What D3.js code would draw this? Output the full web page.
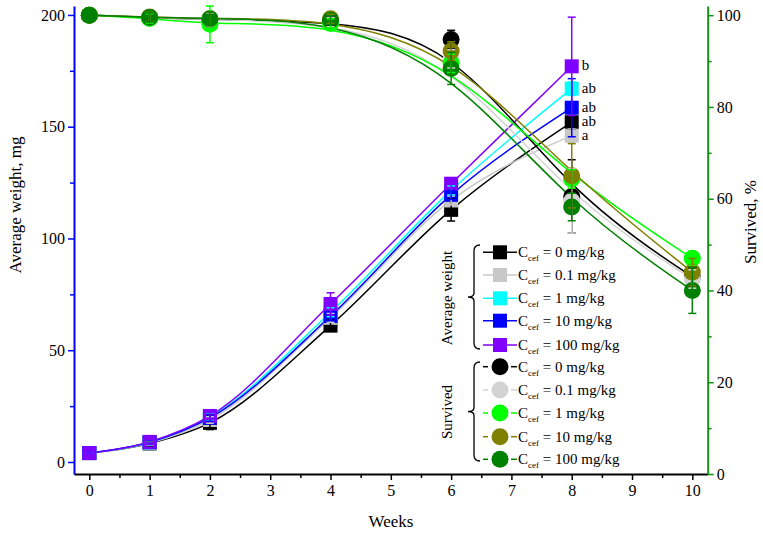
<!DOCTYPE html>
<html>
<head>
<meta charset="utf-8">
<script src="https://cdn.jsdelivr.net/npm/d3@7"></script>
<style>
  body { margin: 0; background: #fff; font-family: 'Liberation Serif', 'DejaVu Serif', serif; }
  svg text { font-family: 'Liberation Serif', 'DejaVu Serif', serif; }
</style>
</head>
<body>
<script>
// Donnees
var weeks = [0, 1, 2, 4, 6, 8]
var weeksSurv = [0, 1, 2, 4, 6, 8, 10]
var doses = ['0', '0.1', '1', '10', '100']

// Poids moyen, mg
var weight0 = [4, 8.3, 17.5, 61, 112.8, 152]
var weight01 = [4, 8.5, 18.8, 64.5, 117, 146]
var weight1 = [4, 8.8, 20.1, 67, 121.5, 167]
var weight10 = [4, 8.8, 19.7, 65.3, 119.5, 158.5]
var weight100 = [4, 9, 20.6, 70.7, 124.5, 177]
var weightErr0 = [0.5, 1, 3, 2.5, 5, 3]
var weightErr01 = [0.5, 1, 1.5, 2, 2, 3]
var weightErr1 = [0.5, 1, 1.5, 2, 2, 3]
var weightErr10 = [0.5, 1, 1.5, 2, 2, 13]
var weightErr100 = [0.5, 1, 1.5, 5, 2, 22]
var letters = ['ab', 'a', 'ab', 'ab', 'b']

// Survie, %
var surv0 = [100, 99.5, 99, 98.8, 94.7, 60.5, 43]
var surv01 = [100, 99.5, 99, 98.5, 90.5, 59.5, 42.5]
var surv1 = [100, 99.3, 98, 98.2, 89.5, 64.3, 47]
var surv10 = [100, 99.6, 99.2, 99.2, 92.2, 65, 44]
var surv100 = [100, 99.5, 99.2, 98.9, 88.4, 58.2, 40]
var survErr0 = [0, 1, 1.5, 1, 2, 8, 2]
var survErr01 = [0, 1, 1.5, 1, 2, 7, 2]
var survErr1 = [0, 1, 4, 1, 2, 2, 1.5]
var survErr10 = [0, 1, 1.5, 1, 2, 7, 3]
var survErr100 = [0, 1, 1.5, 1, 3.5, 3, 5]

var weightColours = ['#000000', '#c8c8c8', '#00ffff', '#0000ff', '#8000ff']
var survColours = ['#000000', '#d3d3d3', '#00ff00', '#808000', '#008000']

var weightSeries = [weight0, weight01, weight1, weight10, weight100]
var weightErrors = [weightErr0, weightErr01, weightErr1, weightErr10, weightErr100]
var survSeries = [surv0, surv01, surv1, surv10, surv100]
var survErrors = [survErr0, survErr01, survErr1, survErr10, survErr100]

var width = 763
var height = 535
var serif = 'Liberation Serif, DejaVu Serif, serif'

var x = d3.scaleLinear().domain([-0.254, 10.255]).range([74, 707.7])
var yW = d3.scaleLinear().domain([-5.37, 204]).range([474, 6])
var yS = d3.scaleLinear().domain([0, 102]).range([474, 6])

var svg = d3.select('body').append('svg')
    .attr('width', width)
    .attr('height', height)
    .attr('font-family', serif)

// Axes
function styleAxis(sel, colour) {
    sel.attr('font-family', serif).attr('font-size', 16)
    sel.selectAll('path').attr('stroke', colour).attr('stroke-width', 2)
    sel.selectAll('line').attr('stroke', colour).attr('stroke-width', 1.5)
    sel.selectAll('text').attr('fill', '#000')
}

var xAxis = svg.append('g').attr('transform', 'translate(0,474)')
    .call(d3.axisBottom(x).tickValues(d3.range(0, 11)).tickSize(6).tickSizeOuter(0).tickPadding(5))
svg.append('g').attr('transform', 'translate(0,474)')
    .call(d3.axisBottom(x).tickValues(d3.range(0.5, 10, 1)).tickSize(4).tickSizeOuter(0).tickFormat(''))
    .call(g => g.select('path').remove())
    .call(g => styleAxis(g, '#000'))
styleAxis(xAxis, '#000')

var leftAxis = svg.append('g').attr('transform', 'translate(74,0)')
    .call(d3.axisLeft(yW).tickValues([0, 50, 100, 150, 200]).tickSize(6).tickSizeOuter(0).tickPadding(3))
svg.append('g').attr('transform', 'translate(74,0)')
    .call(d3.axisLeft(yW).tickValues([25, 75, 125, 175]).tickSize(4).tickFormat(''))
    .call(g => g.select('path').remove())
    .call(g => styleAxis(g, '#0000ff'))
styleAxis(leftAxis, '#0000ff')

var rightAxis = svg.append('g').attr('transform', 'translate(707.7,0)')
    .call(d3.axisRight(yS).tickValues([0, 20, 40, 60, 80, 100]).tickSize(6).tickSizeOuter(0).tickPadding(3))
svg.append('g').attr('transform', 'translate(707.7,0)')
    .call(d3.axisRight(yS).tickValues([10, 30, 50, 70, 90]).tickSize(4).tickFormat(''))
    .call(g => g.select('path').remove())
    .call(g => styleAxis(g, '#169016'))
styleAxis(rightAxis, '#169016')

// Titres des axes
svg.append('text')
    .attr('transform', 'translate(21,205) rotate(-90)')
    .attr('text-anchor', 'middle')
    .attr('font-size', '17px')
    .text('Average weight, mg')

svg.append('text')
    .attr('transform', 'translate(756,222) rotate(-90)')
    .attr('text-anchor', 'middle')
    .attr('font-size', '17px')
    .text('Survived, %')

svg.append('text')
    .attr('x', 391)
    .attr('y', 527)
    .attr('text-anchor', 'middle')
    .attr('font-size', '17px')
    .text('Weeks')

// Courbes
var lineW = d3.line().curve(d3.curveMonotoneX)
var lineS = d3.line().curve(d3.curveBasis)

weightSeries.forEach(function (s, i) {
    svg.append('path')
        .attr('d', lineW(s.map((v, j) => [x(weeks[j]), yW(v)])))
        .attr('fill', 'none')
        .attr('stroke', weightColours[i])
        .attr('stroke-width', 1.5)
})

survSeries.forEach(function (s, i) {
    svg.append('path')
        .attr('d', lineS(s.map((v, j) => [x(weeksSurv[j]), yS(v)])))
        .attr('fill', 'none')
        .attr('stroke', survColours[i])
        .attr('stroke-width', 1.5)
})

// Barres d'erreur
function errorBars(g, xs, vals, errs, scale, colour) {
    vals.forEach(function (v, j) {
        if (!errs[j]) return
        var cx = x(xs[j])
        var top = scale(v + errs[j])
        var bot = scale(v - errs[j])
        g.append('line').attr('x1', cx).attr('x2', cx).attr('y1', top).attr('y2', bot)
            .attr('stroke', colour).attr('stroke-width', 1.5)
        g.append('line').attr('x1', cx - 4).attr('x2', cx + 4).attr('y1', top).attr('y2', top)
            .attr('stroke', colour).attr('stroke-width', 1.5)
        g.append('line').attr('x1', cx - 4).attr('x2', cx + 4).attr('y1', bot).attr('y2', bot)
            .attr('stroke', colour).attr('stroke-width', 1.5)
    })
}

// Marqueurs : carres (poids)
weightSeries.forEach(function (s, i) {
    svg.append('g').selectAll('rect').data(s).join('rect')
        .attr('x', (d, j) => x(weeks[j]) - 7)
        .attr('y', d => yW(d) - 7)
        .attr('width', 14)
        .attr('height', 14)
        .attr('fill', weightColours[i])
})
weightSeries.forEach(function (s, i) {
    errorBars(svg.append('g'), weeks, s, weightErrors[i], yW, weightColours[i])
})

// Marqueurs : cercles (survie)
survSeries.forEach(function (s, i) {
    svg.append('g').selectAll('circle').data(s).join('circle')
        .attr('cx', (d, j) => x(weeksSurv[j]))
        .attr('cy', d => yS(d))
        .attr('r', 8.5)
        .attr('fill', survColours[i])
})
survSeries.forEach(function (s, i) {
    errorBars(svg.append('g'), weeksSurv, s, survErrors[i], yS, survColours[i])
})

// Lettres de significativite
weightSeries.forEach(function (s, i) {
    svg.append('text')
        .attr('x', x(8) + 10)
        .attr('y', yW(s[s.length - 1]) + 4)
        .attr('font-size', '15px')
        .text(letters[i])
})

// Legende
var legendY1 = [252.3, 275, 298.3, 320.7, 345]
var legendY2 = [366.7, 390, 413, 436.7, 459.3]
var legend = svg.append('g')

function legendText(y, dose) {
    var t = legend.append('text')
        .attr('x', 518)
        .attr('y', y + 5)
        .attr('font-size', '15px')
    t.append('tspan').text('C')
    t.append('tspan').attr('font-size', '9px').attr('dy', 4).text('cef')
    t.append('tspan').attr('dy', -4).text(' = ' + dose + ' mg/kg')
}

doses.forEach(function (dose, i) {
    var y = legendY1[i]
    legend.append('line').attr('x1', 483).attr('x2', 517).attr('y1', y).attr('y2', y)
        .attr('stroke', weightColours[i]).attr('stroke-width', 1.5)
    legend.append('rect').attr('x', 493).attr('y', y - 7).attr('width', 14).attr('height', 14)
        .attr('fill', weightColours[i])
    legendText(y, dose)
})

doses.forEach(function (dose, i) {
    var y = legendY2[i]
    legend.append('line').attr('x1', 483).attr('x2', 488).attr('y1', y).attr('y2', y)
        .attr('stroke', survColours[i]).attr('stroke-width', 1.5)
    legend.append('line').attr('x1', 511).attr('x2', 517).attr('y1', y).attr('y2', y)
        .attr('stroke', survColours[i]).attr('stroke-width', 1.5)
    legend.append('circle').attr('cx', 500).attr('cy', y).attr('r', 8.5)
        .attr('fill', survColours[i])
    legendText(y, dose)
})

// Accolades
function brace(top, bottom) {
    var mid = (top + bottom) / 2
    var xs = 474
    return 'M' + (xs + 6) + ',' + top +
        ' Q' + xs + ',' + top + ' ' + xs + ',' + (top + 6) +
        ' L' + xs + ',' + (mid - 4) +
        ' Q' + xs + ',' + mid + ' ' + (xs - 6) + ',' + mid +
        ' Q' + xs + ',' + mid + ' ' + xs + ',' + (mid + 4) +
        ' L' + xs + ',' + (bottom - 6) +
        ' Q' + xs + ',' + bottom + ' ' + (xs + 6) + ',' + bottom
}
legend.append('path').attr('d', brace(245, 349)).attr('fill', 'none').attr('stroke', '#000').attr('stroke-width', 1.3)
legend.append('path').attr('d', brace(362, 461)).attr('fill', 'none').attr('stroke', '#000').attr('stroke-width', 1.3)

legend.append('text')
    .attr('transform', 'translate(452,298) rotate(-90)')
    .attr('text-anchor', 'middle')
    .attr('font-size', '15px')
    .text('Average weight')
legend.append('text')
    .attr('transform', 'translate(452,412) rotate(-90)')
    .attr('text-anchor', 'middle')
    .attr('font-size', '15px')
    .text('Survived')
</script>
</body>
</html>
